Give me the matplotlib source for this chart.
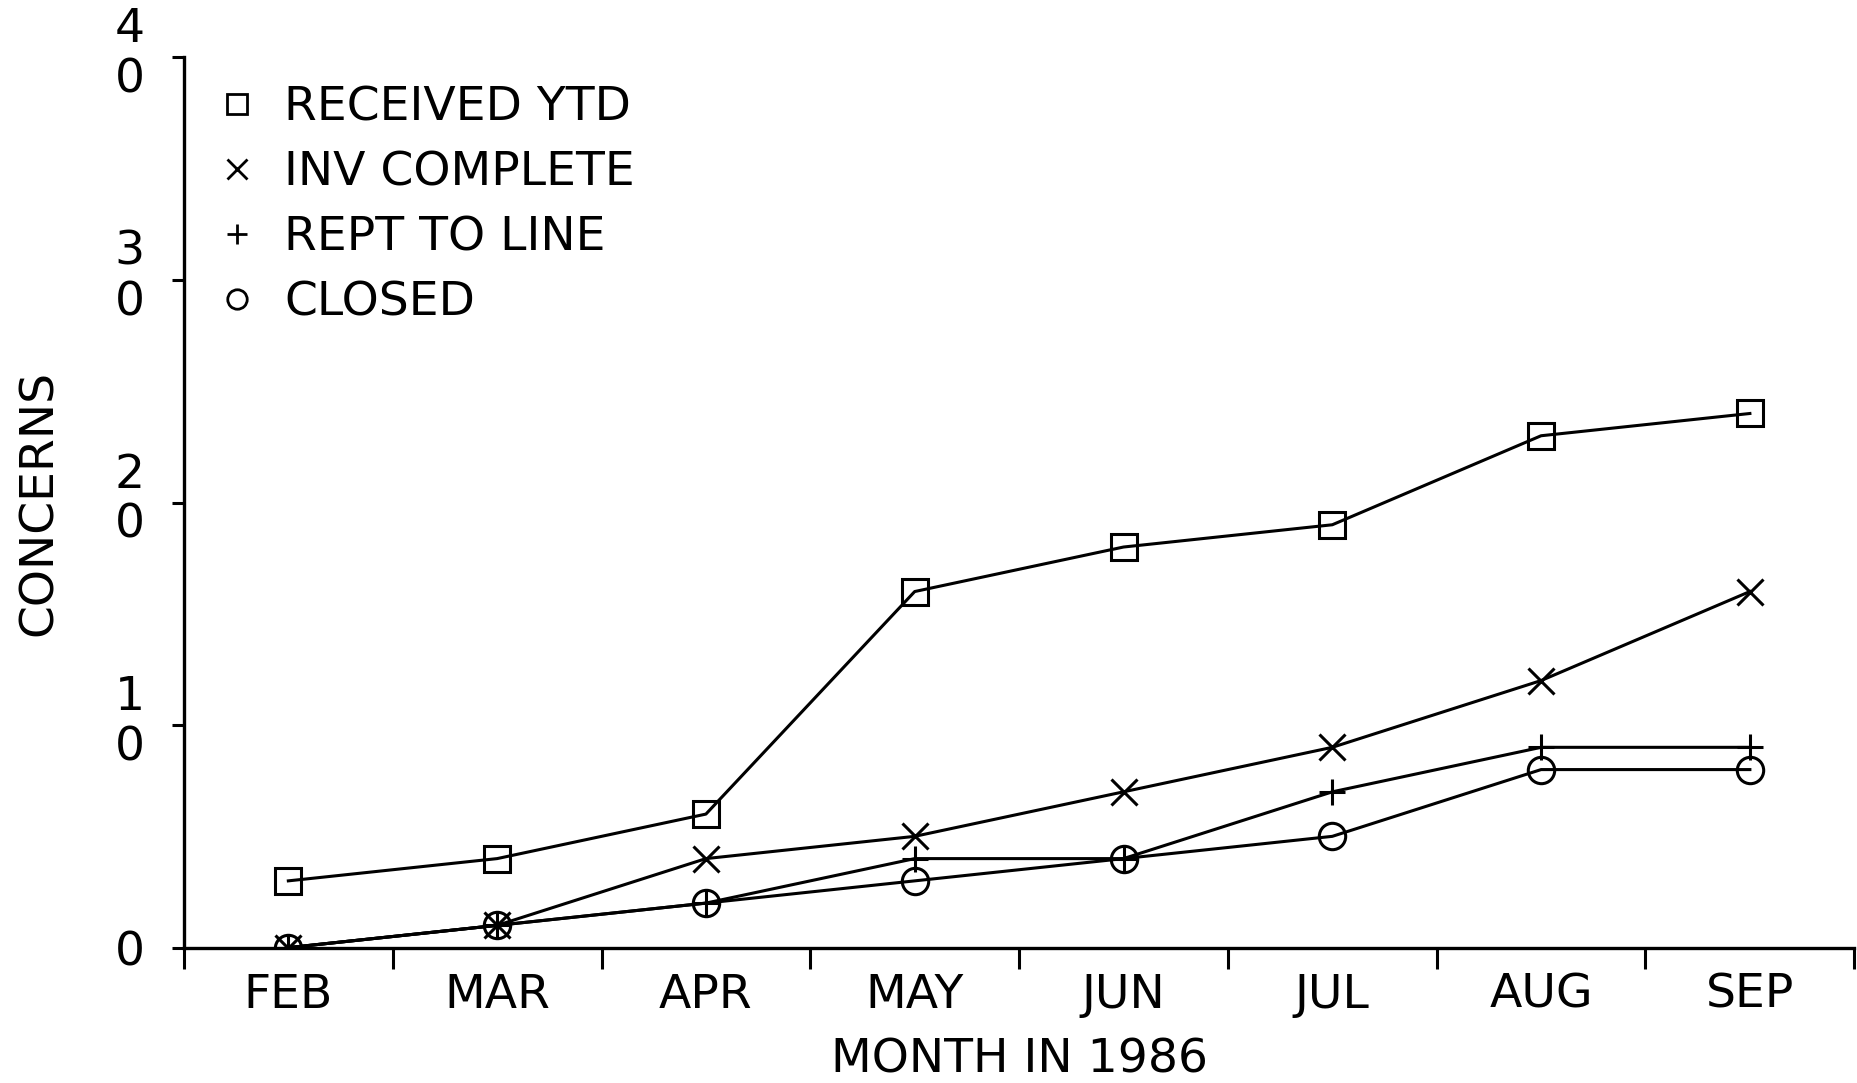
import matplotlib.pyplot as plt
from matplotlib.lines import Line2D
from matplotlib.transforms import ScaledTranslation

plt.rcParams['font.family'] = ['DejaVu Sans']

months = ['FEB', 'MAR', 'APR', 'MAY', 'JUN', 'JUL', 'AUG', 'SEP']
received = [3, 4, 6, 16, 18, 19, 23, 24]
inv_complete = [0, 1, 4, 5, 7, 9, 12, 16]
rept_to_line = [0, 1, 2, 4, 4, 7, 9, 9]
closed = [0, 1, 2, 3, 4, 5, 8, 8]

series = [
    ('RECEIVED YTD', received, 's'),
    ('INV COMPLETE', inv_complete, 'x'),
    ('REPT TO LINE', rept_to_line, '+'),
    ('CLOSED', closed, 'o'),
]

fig = plt.figure(figsize=(18.58, 10.83), dpi=100)
ax = fig.add_axes([0.099, 0.125, 0.899, 0.822])

x = range(len(months))
for name, vals, mk in series:
    ax.plot(x, vals, color='k', lw=2.2, marker=mk, ms=19, mfc='none',
            mec='k', mew=2.2)

ax.set_xlim(-0.5, len(months) - 0.5)
ax.set_ylim(0, 40)

for s in ['top', 'right']:
    ax.spines[s].set_visible(False)
for s in ['left', 'bottom']:
    ax.spines[s].set_linewidth(2.4)

fs = 34
ax.set_xticks([i - 0.5 for i in range(len(months) + 1)])
ax.set_xticklabels([])
ax.set_xticks(list(x), minor=True)
ax.set_xticklabels(months, minor=True, fontsize=fs)
ax.tick_params(axis='x', which='major', direction='out', length=15, width=2.2)
ax.tick_params(axis='x', which='minor', length=0, pad=18)

ax.set_yticks([0, 10, 20, 30, 40])
ax.set_yticklabels(['0', '1\n0', '2\n0', '3\n0', '4\n0'], fontsize=fs,
                   linespacing=1.15, ha='center')
ax.tick_params(axis='y', direction='out', length=9, width=2.2, pad=30)
# stacked labels sit a bit higher, with the "0" just under the tick
shift = ScaledTranslation(0, 0.1, fig.dpi_scale_trans)
for lab in ax.get_yticklabels()[1:]:
    lab.set_transform(lab.get_transform() + shift)

ax.set_xlabel('MONTH IN 1986', fontsize=fs, labelpad=14)
ax.set_ylabel('CONCERNS', fontsize=fs, labelpad=38)

handles = [Line2D([], [], ls='', marker=mk, ms=14, mfc='none', mec='k',
                  mew=2) for _, _, mk in series]
ax.legend(handles, [s[0] for s in series], loc='upper left',
          bbox_to_anchor=(-0.008, 1.016), frameon=False, fontsize=fs,
          handlelength=1.0, handletextpad=0.5, labelspacing=0.42)

fig.savefig('out.png', dpi=100)
